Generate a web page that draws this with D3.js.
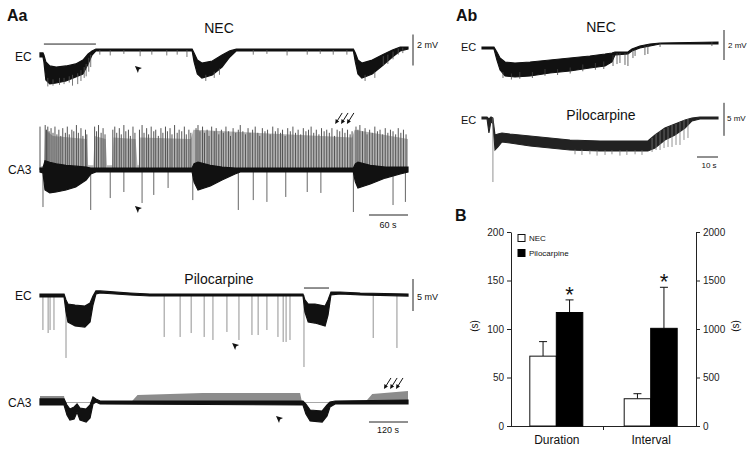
<!DOCTYPE html>
<html><head><meta charset="utf-8">
<script src="https://cdn.jsdelivr.net/npm/d3@7"></script>
<style>body{margin:0;background:#fff}svg{display:block;font-family:"Liberation Sans",Arial,sans-serif}</style>
</head><body><svg id="c" width="753" height="449"></svg>
<script>
// ---------- Bar chart data (panel B) ----------
const categories = ["Duration", "Interval"];
const necValues = [72, 281];
const piloValues = [117, 1007];
const necErrTop = [87, 333];
const piloErrTop = [130, 1430];
const leftTicks = [0, 50, 100, 150, 200];
const rightTicks = [0, 500, 1000, 1500, 2000];

// ---------- Trace data: [time s, upper mV, lower mV] ----------
// Aa, NEC, EC
const aaNecEc = [[0,-0.19,-0.45],[4.6,-0.19,-0.45],[6,-0.32,-0.77],[9,-0.77,-1.94],[15,-1.03,-2.19],[25,-1.1,-2.13],[40,-1.03,-2.0],[55,-0.9,-1.74],[66,-0.65,-1.55],[74,-0.26,-0.9],[80,-0.06,-0.32],[86,0.06,-0.06],[234,0.06,-0.06],[237,-0.19,-0.77],[242,-0.65,-1.55],[249,-0.84,-1.81],[265,-0.71,-1.61],[280,-0.32,-1.10],[292,-0.06,-0.45],[302,0.06,-0.06],[482,0.06,-0.06],[485,-0.19,-0.77],[489,-0.65,-1.55],[495,-0.84,-1.81],[511,-0.65,-1.55],[526,-0.32,-1.03],[542,0,-0.45],[554,0.19,-0.06],[566,0.19,0.06]];
const aaNecEcSpikes = [[12,-1.8,-2.35],[20,-1.9,-2.3],[30,-1.8,-2.25],[37,-1.8,-2.2],[45,-1.7,-2.1],[50,-1.6,-2.3],[58,-1.5,-2.2],[63,-1.3,-2.0],[68,-1.1,-1.8],[71,-0.9,-1.7],[75,-0.5,-1.4],[78,-0.3,-1.1],[92,0,-0.3],[108,0,-0.35],[129,0,-0.25],[154,0,-0.4],[172,0,-0.3],[195,0,-0.35],[211,0,-0.3],[226,0,-0.45],[255,-1.6,-2.0],[268,-1.4,-1.8],[276,-1.2,-1.6],[328,0,-0.3],[349,0,-0.25],[380,0,-0.35],[411,0,-0.3],[431,0,-0.25],[451,0,-0.3],[472,0,-0.3],[500,-1.6,-2.0],[515,-1.4,-1.8],[528,-0.4,-1.0],[535,-0.3,-0.9],[543,-0.1,-0.6],[551,0.1,-0.3],[558,0.15,-0.2]];
// Aa, NEC, CA3
const aaNecCa3 = [[0,0.13,-0.13],[4.6,0.13,-0.19],[7.7,0.6,-1.29],[15,0.5,-1.48],[25,0.4,-1.42],[40,0.3,-1.29],[55,0.25,-1.10],[71,0.19,-0.65],[78,0.13,-0.26],[86,0.13,-0.13],[234,0.13,-0.13],[237,0.4,-0.77],[243,0.5,-1.29],[262,0.3,-1.03],[280,0.19,-0.65],[300,0.13,-0.26],[308,0.13,-0.13],[482,0.13,-0.13],[485,0.4,-0.77],[489,0.5,-1.16],[508,0.3,-0.90],[531,0.19,-0.52],[554,0.19,-0.26],[566,0.19,-0.13]];
const aaNecCa3Haze = [[0,0.2],[6,0.3],[8,2.6],[20,2.2],[72,2.0],[74,0.3],[82,0.3],[84,2.2],[101,2.0],[103,0.3],[111,0.3],[113,2.1],[147,2.0],[150,0.3],[152,0.3],[154,2.1],[232,2.0],[236,2.6],[480,2.1],[484,2.6],[566,2.0]];
const aaNecCa3Up = [[0,2.8],[8,2.9],[10,2.6],[12,2.8],[14,2.5],[17,2.7],[20,2.4],[23,2.8],[26,2.3],[29,2.6],[32,2.2],[35,2.7],[39,2.4],[42,2.8],[45,2.3],[49,2.6],[52,2.5],[56,2.9],[59,2.4],[63,2.7],[66,2.2],[70,2.6],[72,2.3],[84,2.8],[87,2.5],[90,2.9],[94,2.4],[97,2.7],[100,2.3],[112,2.6],[115,2.8],[118,2.4],[122,2.7],[125,2.3],[129,2.9],[132,2.5],[136,2.6],[139,2.2],[143,2.8],[146,2.4],[153,2.6],[157,2.9],[160,2.4],[164,2.7],[167,2.3],[171,2.8],[175,2.5],[178,2.6],[182,2.2],[186,2.7],[189,2.4],[193,2.8],[196,2.5],[200,2.7],[203,2.3],[207,2.9],[211,2.4],[214,2.6],[218,2.5],[222,2.8],[225,2.3],[229,2.6],[232,2.4],[240,2.7],[243,2.9],[246,2.5],[250,2.8],[253,2.4],[257,2.6],[260,2.2],[264,2.8],[268,2.5],[271,2.7],[275,2.3],[279,2.6],[282,2.4],[286,2.8],[290,2.5],[293,2.2],[297,2.7],[301,2.4],[305,2.6],[308,2.9],[312,2.5],[316,2.3],[320,2.7],[323,2.4],[327,2.6],[331,2.8],[335,2.4],[338,2.2],[342,2.7],[346,2.5],[350,2.6],[354,2.3],[358,2.8],[362,2.5],[366,2.7],[370,2.4],[373,2.6],[377,2.2],[381,2.7],[385,2.5],[389,2.8],[393,2.4],[397,2.6],[401,2.3],[405,2.7],[409,2.5],[413,2.6],[417,2.8],[421,2.4],[425,2.6],[429,2.3],[433,2.7],[437,2.5],[441,2.6],[445,2.4],[449,2.7],[453,2.2],[457,2.6],[461,2.5],[465,2.7],[469,2.4],[473,2.6],[477,2.3],[480,2.5],[486,2.8],[489,2.6],[492,2.9],[496,2.5],[500,2.7],[503,2.3],[507,2.6],[511,2.4],[515,2.8],[519,2.5],[523,2.6],[527,2.3],[531,2.7],[535,2.4],[539,2.6],[543,2.5],[547,2.3],[551,2.7],[555,2.4],[559,2.6],[563,2.3]];
const aaNecCa3Down = [[4.6,-2.39],[78,-2.58],[108,-1.81],[129,-1.42],[157,-2.13],[175,-1.61],[197,-1.16],[235,-1.94],[305,-2.58],[328,-1.94],[349,-2.06],[378,-1.74],[411,-1.42],[432,-1.48],[482,-2.71],[543,-2.26],[562,-2.06]];
// Aa, Pilocarpine, EC
const aaPiloEc = [[0,0.16,-0.31],[74,0.16,-0.31],[80,-0.78,-2.66],[86,-1.41,-4.22],[108,-1.56,-4.84],[138,-1.72,-5.0],[154,-1.25,-4.22],[163,-0.16,-1.56],[172,0.63,0.16],[185,0.63,0.31],[277,0.31,0],[338,0.16,-0.16],[809,0.16,-0.16],[815,-0.78,-2.66],[825,-1.41,-4.22],[846,-1.41,-4.38],[877,-1.72,-4.84],[886,-0.78,-3.13],[895,0.47,0],[923,0.47,0.16],[985,0.31,0],[1132,0.16,-0.16]];
const aaPiloEcSpikes = [[9,0,-5.47],[25,0,-5.94],[31,0,-5.47],[43,0,-5.47],[80,-1,-9.84],[382,0,-6.56],[431,0,-6.56],[465,0,-5.94],[505,0,-6.56],[532,0,-7.03],[575,0,-5.78],[612,0,-7.03],[652,0,-6.25],[671,0,-6.25],[698,0,-5.47],[732,0,-6.56],[748,0,-7.34],[757,0,-7.34],[769,0,-7.03],[812,0,-11.25],[1025,0,-6.72],[1098,0,-8.28]];
// Aa, Pilocarpine, CA3
const aaPiloCa3 = [[0,0.63,-0.31],[74,0.63,-0.31],[83,-0.31,-1.88],[92,-0.94,-2.66],[105,-0.63,-2.5],[114,-0.16,-1.41],[123,-0.78,-2.66],[142,-0.94,-2.97],[154,-0.31,-2.34],[163,0.94,-0.16],[172,0.63,0.16],[185,0.31,-0.16],[809,0.31,-0.31],[818,-0.16,-1.72],[831,-1.09,-2.81],[868,-1.25,-2.97],[883,-0.31,-2.03],[892,0.16,-0.63],[908,0.31,-0.16],[1132,0.47,-0.16]];
const aaPiloCa3Noise = [[0,1.09],[74,1.09],[77,0.1],[280,0.1],[300,1.25],[500,1.56],[800,1.56],[806,0.1],[1000,0.1],[1022,1.41],[1132,1.88]];
// Ab, NEC, EC
const abNecEc = [[0,0.07,-0.07],[5.7,0.07,-0.07],[7.1,-0.27,-0.8],[8.6,-0.67,-1.47],[11,-0.93,-1.87],[15.7,-1.0,-1.93],[22.9,-0.93,-1.87],[32.4,-0.8,-1.67],[41.9,-0.67,-1.53],[51.4,-0.53,-1.33],[58.6,-0.4,-1.2],[61.9,-0.33,-0.93],[63.3,-0.27,-0.47],[69.5,-0.27,-0.4],[71.4,-0.07,-0.2],[75.2,0.13,0],[80,0.27,0.13],[84.8,0.33,0.27],[112.4,0.4,0.27]];
const abNecEcSpikes = [[10,-1.6,-2.0],[14,-1.7,-2.1],[18,-1.6,-2.05],[24,-1.6,-2.0],[30,-1.4,-1.85],[36,-1.4,-1.8],[42,-1.3,-1.7],[48,-1.1,-1.55],[54,-1.0,-1.45],[58,-0.9,-1.4],[62.4,-0.47,-1.2],[64.3,-0.33,-1.07],[65.7,-0.33,-1.0],[68.1,-0.33,-1.13],[69.5,-0.33,-1.2],[71.9,-0.13,-0.67],[72.9,-0.13,-0.53],[77.6,0.13,-0.47],[79,0.2,-0.4],[84.8,0.33,0.07],[109.5,0.4,0.13]];
// Ab, Pilocarpine, EC
const abPiloEc = [[0,0.15,-0.15],[2.4,0.15,-0.15],[3.3,-0.15,-2.27],[4.3,0.15,-0.45],[5.2,0,-0.91],[6.2,-2.58,-4.85],[7.6,-2.42,-4.39],[9.5,-2.27,-3.64],[13.3,-2.42,-3.79],[22.9,-2.73,-4.24],[32.4,-3.03,-4.55],[41.9,-3.33,-4.85],[56.2,-3.48,-5.0],[70.5,-3.48,-5.0],[79,-3.48,-5.0],[82.4,-2.58,-4.55],[87.1,-1.52,-3.33],[91.9,-0.91,-2.58],[96.7,-0.3,-1.52],[100,0,-0.45],[103.8,0.15,-0.15],[112.4,0.15,-0.15]];
const abPiloEcSpikes = [[5.2,0,-9.7],[44.3,-4.8,-5.5],[47.6,-4.8,-5.6],[51.4,-4.9,-5.5],[54.8,-4.9,-5.7],[58.6,-4.9,-5.6],[61.9,-4.9,-5.5],[65.7,-4.9,-5.7],[69,-4.9,-5.6],[72.9,-4.9,-5.5],[76.2,-4.9,-5.6],[81,-3.03,-5.15],[82.9,-2.42,-4.85],[84.8,-1.97,-4.85],[86.7,-1.67,-4.55],[88.6,-1.36,-4.39],[90.5,-1.06,-4.39],[92.4,-0.91,-4.09],[94.3,-0.61,-4.09],[96.2,-0.3,-3.33],[98.1,-0.15,-3.03]];

// ---------- Annotation anchors (time, mV) ----------
const aaNecEcBar = [6, 86, 0.19];
const aaPiloEcBar = [812, 889, 1.09];
const aaNecEcArrowhead = [146, -1.03];
const aaNecCa3Arrowhead = [146, -2.32];
const aaPiloEcArrowhead = [591, -7.5];
const aaPiloCa3Arrowhead = [726, -2.03];
const aaNecCa3Arrows = [[454, 2.97], [463, 2.97], [472, 2.97]];
const aaPiloCa3Arrows = [[1058, 2.19], [1077, 2.19], [1095, 2.19]];

const svg = d3.select("#c");
svg.append("rect").attr("width", 753).attr("height", 449).attr("fill", "#fff");
const FONT = '"Liberation Sans", Arial, sans-serif';

function text(x, y, s, size, opts = {}) {
  const t = svg.append("text").attr("x", x).attr("y", y).text(s)
    .attr("font-size", size).attr("fill", opts.fill || "#111")
    .attr("font-family", FONT)
    .attr("font-weight", opts.bold ? "bold" : "normal")
    .attr("text-anchor", opts.anchor || "start");
  if (opts.rotate) t.attr("transform", `rotate(${opts.rotate},${x},${y})`);
  return t;
}
function band(env, x, y, fill, sw = 0.9) {
  svg.append("path").datum(env)
    .attr("d", d3.area().x(d => x(d[0])).y0(d => y(d[2])).y1(d => y(d[1])))
    .attr("fill", fill).attr("stroke", fill).attr("stroke-width", sw);
}
function haze(arr, x, y, fill) {
  svg.append("path").datum(arr)
    .attr("d", d3.area().x(d => x(d[0])).y0(y(0)).y1(d => y(d[1])))
    .attr("fill", fill);
}
function spikes(arr, x, y, color, w) {
  svg.append("g").selectAll("line").data(arr).join("line")
    .attr("x1", d => x(d[0])).attr("x2", d => x(d[0]))
    .attr("y1", d => y(d[1])).attr("y2", d => y(d[2]))
    .attr("stroke", color).attr("stroke-width", w);
}
function vbar(x, y1, y2) {
  svg.append("line").attr("x1", x).attr("x2", x).attr("y1", y1).attr("y2", y2)
    .attr("stroke", "#222").attr("stroke-width", 1);
}
function hbar(x1, x2, y) {
  svg.append("line").attr("x1", x1).attr("x2", x2).attr("y1", y).attr("y2", y)
    .attr("stroke", "#222").attr("stroke-width", 1);
}
function arrowhead(px, py) {
  svg.append("path").attr("d", `M${px},${py} L${px + 7},${py + 2} L${px + 4},${py + 3.5} L${px + 3},${py + 7} Z`)
    .attr("fill", "#111");
}
function arrow(px, py) {
  svg.append("line").attr("x1", px + 2).attr("y1", py - 3).attr("x2", px + 7).attr("y2", py - 11)
    .attr("stroke", "#111").attr("stroke-width", 1);
  svg.append("path").attr("d", `M${px},${py} L${px + 0.5},${py - 5} L${px + 4},${py - 2.5} Z`).attr("fill", "#111");
}

// ================= Panel Aa : NEC =================
const xNec = d3.scaleLinear().domain([0, 566]).range([40, 408]);
const yNecEc = d3.scaleLinear().domain([0, 1]).range([50, 34.5]);
const yNecCa3 = d3.scaleLinear().domain([0, 1]).range([170, 154.5]);

text(7, 21, "Aa", 16, { bold: true });
text(219, 33, "NEC", 14, { anchor: "middle" });
text(15, 61, "EC", 12);
band(aaNecEc, xNec, yNecEc, "#111", 1.2);
spikes(aaNecEcSpikes, xNec, yNecEc, "#555", 0.8);
hbar(xNec(aaNecEcBar[0]), xNec(aaNecEcBar[1]), yNecEc(aaNecEcBar[2]) - 3);
arrowhead(xNec(aaNecEcArrowhead[0]), yNecEc(aaNecEcArrowhead[1]));
vbar(413, yNecEc(1), yNecEc(-1));
text(417, 48, "2 mV", 9);

text(8, 174, "CA3", 12);
haze(aaNecCa3Haze, xNec, yNecCa3, "#b4b4b4");
spikes(aaNecCa3Up.map(d => [d[0], 0, d[1]]), xNec, yNecCa3, "#555", 1);
spikes(aaNecCa3Down.map(d => [d[0], 0, d[1]]), xNec, yNecCa3, "#555", 0.9);
band(aaNecCa3, xNec, yNecCa3, "#111", 1.2);
arrowhead(xNec(aaNecCa3Arrowhead[0]), yNecCa3(aaNecCa3Arrowhead[1]));
aaNecCa3Arrows.forEach(a => arrow(xNec(a[0]), yNecCa3(a[1])));
hbar(xNec(506), xNec(566), 215);
text(388, 228, "60 s", 9, { anchor: "middle" });

// ================= Panel Aa : Pilocarpine =================
const xPilo = d3.scaleLinear().domain([0, 1132]).range([40, 408]);
const yPiloEc = d3.scaleLinear().domain([0, 1]).range([295, 288.6]);
const yPiloCa3 = d3.scaleLinear().domain([0, 1]).range([403, 396.6]);

text(219, 284, "Pilocarpine", 14, { anchor: "middle" });
text(15, 300, "EC", 12);
spikes(aaPiloEcSpikes, xPilo, yPiloEc, "#777", 0.8);
band(aaPiloEc, xPilo, yPiloEc, "#111", 1.2);
hbar(xPilo(aaPiloEcBar[0]), xPilo(aaPiloEcBar[1]), yPiloEc(aaPiloEcBar[2]));
arrowhead(xPilo(aaPiloEcArrowhead[0]), yPiloEc(aaPiloEcArrowhead[1]));
vbar(413, yPiloEc(2.5), yPiloEc(-2.5));
text(417, 300, "5 mV", 9);

text(8, 407, "CA3", 12);
haze(aaPiloCa3Noise, xPilo, yPiloCa3, "#8c8c8c");
band(aaPiloCa3, xPilo, yPiloCa3, "#111", 1.2);
arrowhead(xPilo(aaPiloCa3Arrowhead[0]), yPiloCa3(aaPiloCa3Arrowhead[1]));
aaPiloCa3Arrows.forEach(a => arrow(xPilo(a[0]), yPiloCa3(a[1])));
hbar(xPilo(1012), xPilo(1132), 422);
text(388, 433, "120 s", 9, { anchor: "middle" });

// ================= Panel Ab =================
const xAb = d3.scaleLinear().domain([0, 112.4]).range([482, 718]);
const yAbNec = d3.scaleLinear().domain([0, 1]).range([48, 33]);
const yAbPilo = d3.scaleLinear().domain([0, 1]).range([118, 111.4]);

text(456, 21, "Ab", 16, { bold: true });
text(601, 32, "NEC", 14, { anchor: "middle" });
text(461, 51, "EC", 11);
band(abNecEc, xAb, yAbNec, "#111", 1.1);
spikes(abNecEcSpikes, xAb, yAbNec, "#444", 0.8);
vbar(724, yAbNec(1.2), yAbNec(-0.8));
text(728, 48, "2 mV", 8);

text(601, 120, "Pilocarpine", 14, { anchor: "middle" });
text(461, 124, "EC", 11);
band(abPiloEc, xAb, yAbPilo, "#222", 1.1);
spikes(abPiloEcSpikes, xAb, yAbPilo, "#777", 0.8);
vbar(724, yAbPilo(2.3), yAbPilo(-2.7));
text(727, 121, "5 mV", 8);
hbar(xAb(102.4), xAb(112.4), 157);
text(709, 168, "10 s", 8, { anchor: "middle" });

// ================= Panel B : bar chart =================
text(455, 221, "B", 16, { bold: true });
const yL = d3.scaleLinear().domain([0, 200]).range([426, 232]);
const yR = d3.scaleLinear().domain([0, 2000]).range([426, 232]);
const xC = d3.scalePoint().domain(categories).range([511, 696]).padding(0.48);
const bw = 26.5;
const yFor = i => (i === 0 ? yL : yR);

const axL = svg.append("g").attr("transform", "translate(511,0)")
  .call(d3.axisLeft(yL).tickValues(leftTicks).tickFormat(d3.format("d")).tickSize(4).tickSizeOuter(0).tickPadding(3));
const axR = svg.append("g").attr("transform", "translate(696,0)")
  .call(d3.axisRight(yR).tickValues(rightTicks).tickFormat(d3.format("d")).tickSize(4).tickSizeOuter(0).tickPadding(3));
const axB = svg.append("g").attr("transform", "translate(0,426)")
  .call(d3.axisBottom(xC).tickSize(0).tickPadding(9));
[axL, axR].forEach(a => a.selectAll("text").attr("font-size", 10).attr("font-family", FONT).attr("fill", "#222"));
axB.selectAll("text").attr("font-size", 12).attr("font-family", FONT).attr("fill", "#111");
[axL, axR, axB].forEach(a => a.selectAll("path,line").attr("stroke", "#222"));
axB.select(".domain").attr("d", "M511,0.5H696");
svg.append("line").attr("x1", (511 + 696) / 2).attr("x2", (511 + 696) / 2)
  .attr("y1", 426).attr("y2", 430).attr("stroke", "#222");

text(478, 326, "(s)", 10, { rotate: -90, anchor: "middle" });
text(739, 326, "(s)", 10, { rotate: -90, anchor: "middle" });

categories.forEach((c, i) => {
  const y = yFor(i), cx = xC(c);
  [[cx - bw / 2, necValues[i], necErrTop[i]], [cx + bw / 2, piloValues[i], piloErrTop[i]]].forEach(e => {
    svg.append("line").attr("x1", e[0]).attr("x2", e[0]).attr("y1", y(e[1])).attr("y2", y(e[2])).attr("stroke", "#111");
    svg.append("line").attr("x1", e[0] - 4).attr("x2", e[0] + 4).attr("y1", y(e[2])).attr("y2", y(e[2])).attr("stroke", "#111");
  });
  svg.append("rect").attr("x", cx - bw).attr("y", y(necValues[i])).attr("width", bw)
    .attr("height", y(0) - y(necValues[i])).attr("fill", "#fff").attr("stroke", "#111").attr("stroke-width", 1);
  svg.append("rect").attr("x", cx).attr("y", y(piloValues[i])).attr("width", bw)
    .attr("height", y(0) - y(piloValues[i])).attr("fill", "#000").attr("stroke", "#000");
  text(cx + bw / 2, y(piloErrTop[i]) + 2, "*", 22, { anchor: "middle" });
});

// legend
svg.append("rect").attr("x", 518).attr("y", 234.5).attr("width", 7).attr("height", 7)
  .attr("fill", "#fff").attr("stroke", "#111");
text(529, 241, "NEC", 8);
svg.append("rect").attr("x", 518).attr("y", 249.5).attr("width", 7).attr("height", 7)
  .attr("fill", "#000").attr("stroke", "#000");
text(529, 256, "Pilocarpine", 8);
</script>
</body></html>
